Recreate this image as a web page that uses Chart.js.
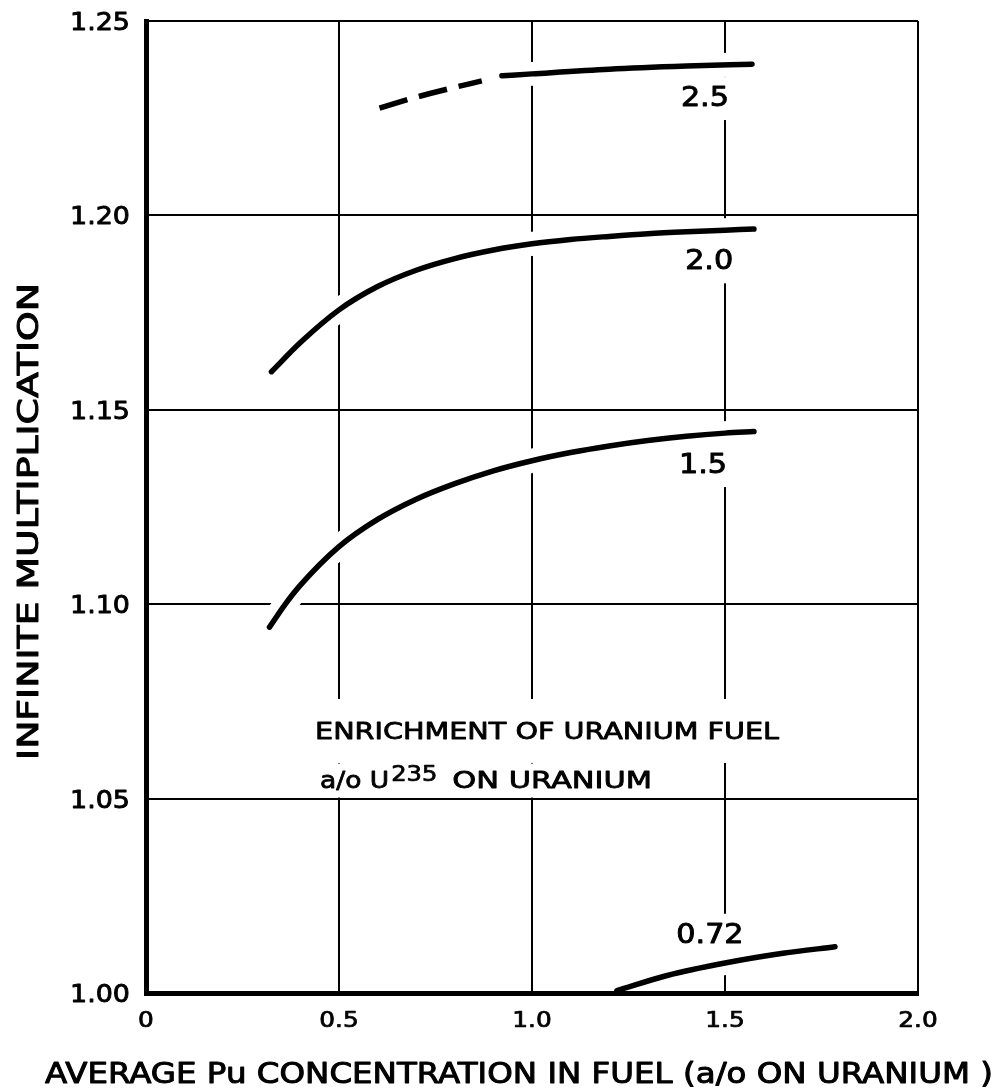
<!DOCTYPE html>
<html>
<head>
<meta charset="utf-8">
<title>Infinite multiplication vs Pu concentration</title>
<script src="https://cdn.jsdelivr.net/npm/chart.js@4.4.1/dist/chart.umd.min.js"></script>
<style>
  body { margin: 0; background: #fff; }
  canvas { display: block; }
</style>
</head>
<body>
<canvas id="kChart" width="996" height="1091"></canvas>
<script>
// axis tick labels
const xTickLabels = ['0', '0.5', '1.0', '1.5', '2.0'];
const yTickLabels = ['1.00', '1.05', '1.10', '1.15', '1.20', '1.25'];

// Pu concentration (a/o on U) and k-infinity, one pair of arrays per enrichment
// 2.5 a/o: uncertain (dashed) stretch, then the solid curve
const pu25Dashed = [0.605, 0.70, 0.79, 0.87];
const k25Dashed = [1.2276, 1.2304, 1.2327, 1.2346];
const pu25 = [0.922, 1.0, 1.2, 1.4, 1.57];
const k25 = [1.2359, 1.2364, 1.2376, 1.2384, 1.2389];

const pu20 = [0.325, 0.4, 0.5, 0.6, 0.7, 0.8, 0.9, 1.0, 1.1, 1.2, 1.3, 1.4, 1.5, 1.575];
const k20 = [1.1598, 1.1673, 1.1757, 1.1817, 1.1859, 1.1889, 1.1911, 1.1927, 1.1938, 1.1946, 1.1953, 1.1958, 1.1962, 1.1965];

const pu15 = [0.32, 0.36, 0.4, 0.5, 0.6, 0.7, 0.8, 0.9, 1.0, 1.1, 1.2, 1.3, 1.4, 1.5, 1.575];
const k15 = [1.0941, 1.0999, 1.1049, 1.1148, 1.1218, 1.1270, 1.1310, 1.1343, 1.1369, 1.1390, 1.1407, 1.1421, 1.1432, 1.1440, 1.1444];

const pu072 = [1.22, 1.35, 1.5, 1.65, 1.785];
const k072 = [1.0006, 1.0045, 1.0077, 1.0102, 1.0119];

const enrichLabels = ['2.5', '2.0', '1.5', '0.72'];

// where each enrichment label sits (data units, centre of the caps)
const labelAnchorX = [1.448, 1.459, 1.443, 1.461];
const labelAnchorY = [1.2307, 1.1887, 1.1363, 1.0155];

const FONT = '"DejaVu Sans", "Liberation Sans", sans-serif';

function points(xs, ys) {
    return xs.map((v, i) => ({x: v, y: ys[i]}));
}

const curves = [
    {xs: pu25Dashed, ys: k25Dashed, dash: [29, 12]},
    {xs: pu25, ys: k25},
    {xs: pu20, ys: k20},
    {xs: pu15, ys: k15},
    {xs: pu072, ys: k072},
];

let datasets = curves.map(c => ({
    data: points(c.xs, c.ys),
    borderColor: '#000',
    borderWidth: 5.5,
    borderDash: c.dash || [],
    borderCapStyle: c.dash ? 'butt' : 'round',
    borderJoinStyle: 'round',
    cubicInterpolationMode: 'monotone',
    pointRadius: 0,
    fill: false,
    order: 1,
}));

// white band under every curve so the grid breaks where a curve crosses it
curves.forEach(c => {
    datasets.push({
        data: points(c.xs, c.ys),
        borderColor: '#fff',
        borderWidth: 24,
        borderCapStyle: 'round',
        cubicInterpolationMode: 'monotone',
        pointRadius: 0,
        fill: false,
        order: 2,
    });
});

// stencil-style lettering: a touch heavier than the font and stretched sideways
// align: 'left' | 'center' | 'right'; width (optional) forces the drawn width
function letter(ctx, text, x, y, size, align, stretch, width) {
    ctx.save();
    ctx.font = size + 'px ' + FONT;
    ctx.textAlign = 'left';
    ctx.textBaseline = 'alphabetic';
    let w = ctx.measureText(text).width;
    let sx = width ? width / w : stretch;
    let drawn = w * sx;
    let left = align === 'center' ? x - drawn / 2 : align === 'right' ? x - drawn : x;
    ctx.translate(left, y);
    ctx.scale(sx, 1);
    ctx.fillStyle = '#000';
    ctx.strokeStyle = '#000';
    ctx.lineWidth = size * 0.035;
    ctx.lineJoin = 'round';
    ctx.fillText(text, 0, 0);
    ctx.strokeText(text, 0, 0);
    ctx.restore();
    return drawn;
}

const textPlugin = {
    id: 'chartText',
    afterDraw(chart) {
        const {ctx, scales: {x, y}} = chart;
        ctx.save();

        // tick labels
        x.ticks.forEach((t, i) => {
            letter(ctx, xTickLabels[i], x.getPixelForValue(t.value), 1027, 21, 'center', 1.18);
        });
        y.ticks.forEach((t, i) => {
            letter(ctx, yTickLabels[i], 130, y.getPixelForValue(t.value) + 9, 24.5, 'right', 1.1);
        });

        // curve labels, each cut out of the grid
        enrichLabels.forEach((t, i) => {
            let px = x.getPixelForValue(labelAnchorX[i]);
            let py = y.getPixelForValue(labelAnchorY[i]);
            ctx.fillStyle = '#fff';
            ctx.fillRect(px - 32, py - 19, 64, 43);
            letter(ctx, t, px, py + 10, 27, 'center', 1.12);
        });

        // note on the enrichment
        let lx1 = x.getPixelForValue(0.438);
        let ly1 = y.getPixelForValue(1.0674);
        let lx2 = x.getPixelForValue(0.451);
        let ly2 = y.getPixelForValue(1.0549);
        ctx.fillStyle = '#fff';
        ctx.fillRect(lx1 - 10, ly1 - 32, 485, 64);
        ctx.fillRect(lx2 - 10, ly2 - 16, 352, 34);
        letter(ctx, 'ENRICHMENT OF URANIUM FUEL', lx1, ly1 + 8.5, 23, 'left', 1, 464);

        let cx = lx2;
        cx += letter(ctx, 'a/o U', cx, ly2 + 8, 23, 'left', 1.15) + 2;
        cx += letter(ctx, '235', cx, ly2 + 1, 21, 'left', 1.15) + 15;
        letter(ctx, 'ON URANIUM', cx, ly2 + 8, 23, 'left', 1, lx2 + 332 - cx);

        // axis titles
        letter(ctx, 'AVERAGE Pu CONCENTRATION IN FUEL (a/o ON URANIUM )', 45, 1083, 28, 'left', 1, 948);

        ctx.translate(38, 760);
        ctx.rotate(-Math.PI / 2);
        letter(ctx, 'INFINITE MULTIPLICATION', 0, 0, 28.5, 'left', 1, 477);
        ctx.restore();
    }
};

new Chart(document.getElementById('kChart'), {
    type: 'line',
    data: {datasets: datasets},
    options: {
        responsive: false,
        animation: false,
        events: [],
        layout: {padding: {top: 21, right: 78, left: 0, bottom: 0}},
        plugins: {
            legend: {display: false},
            tooltip: {enabled: false},
        },
        scales: {
            x: {
                type: 'linear',
                min: 0,
                max: 2,
                afterFit: scale => { scale.height = 98; },
                ticks: {stepSize: 0.5, autoSkip: false, display: false},
                grid: {color: '#000', lineWidth: 2, drawTicks: false},
                border: {color: '#000', width: 5, z: 1},
            },
            y: {
                type: 'linear',
                min: 1.0,
                max: 1.25,
                afterFit: scale => { scale.width = 146; },
                ticks: {stepSize: 0.05, autoSkip: false, display: false},
                grid: {color: '#000', lineWidth: 2, drawTicks: false},
                border: {color: '#000', width: 5, z: 1},
            },
        },
    },
    plugins: [textPlugin],
});
</script>
</body>
</html>
